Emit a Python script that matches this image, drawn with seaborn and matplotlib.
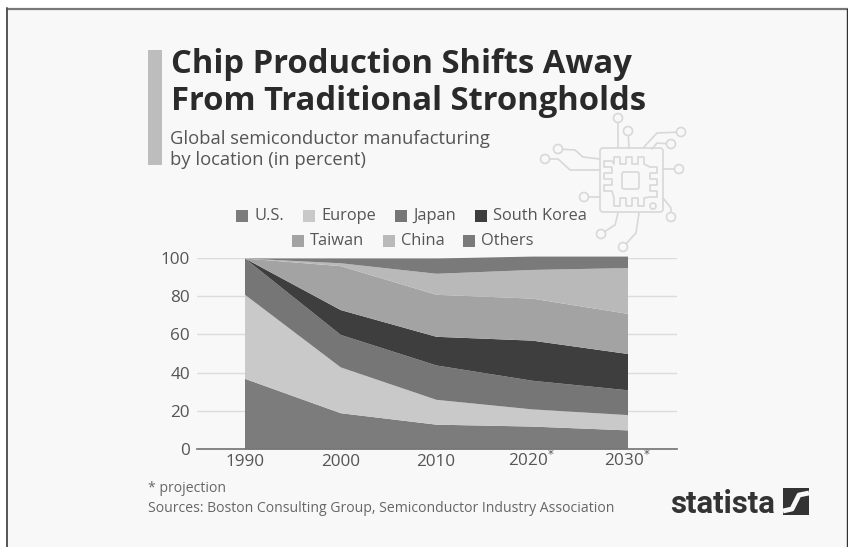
import matplotlib
matplotlib.use("Agg")
import matplotlib.pyplot as plt
from matplotlib.patches import Rectangle, Circle, FancyBboxPatch, Polygon
import seaborn as sns

years = [1990, 2000, 2010, 2020, 2030]
year_labels = ["1990", "2000", "2010", "2020$^{*}$", "2030$^{*}$"]
us = [37, 19, 13, 12, 10]
europe = [44, 24, 13, 9, 8]
japan = [19, 17, 18, 15, 13]
south_korea = [0, 13, 15, 21, 19]
taiwan = [0, 23, 22, 22, 21]
china = [0, 1.5, 11, 15, 24]
others = [0, 2.5, 8, 7, 6]
names = ["U.S.", "Europe", "Japan", "South Korea", "Taiwan", "China", "Others"]
colors = ["#7c7c7c", "#c9c9c9", "#767676", "#3e3e3e", "#a3a3a3", "#b9b9b9", "#7a7a7a"]

W, H = 848, 547
BG = "#f8f8f8"
ICON = "#d8d8d8"

sns.set_theme(style="white")
plt.rcParams["font.family"] = ["Open Sans", "DejaVu Sans"]

fig = plt.figure(figsize=(W / 100, H / 100), dpi=100, facecolor="white")

# full figure overlay in pixel coordinates for the furniture
bg = fig.add_axes([0, 0, 1, 1], zorder=0)
bg.set_xlim(0, W)
bg.set_ylim(H, 0)
bg.axis("off")
bg.add_patch(Rectangle((7, 9), W, H, fc=BG, ec="none"))
bg.plot([7, W], [9, 9], color="#777777", lw=1.6)
bg.plot([6.5, 6.5], [8, H], color="#555555", lw=1.4)
bg.plot([847.3, 847.3], [9, H], color="#333333", lw=1)

# title block
bg.add_patch(Rectangle((148, 50), 14, 115, fc="#bdbdbd", ec="none"))
bg.text(171, 73, "Chip Production Shifts Away", fontsize=23.6, fontweight="bold", color="#2a2a2a", va="baseline")
bg.text(171, 110, "From Traditional Strongholds", fontsize=23.6, fontweight="bold", color="#2a2a2a", va="baseline")
bg.text(170, 144, "Global semiconductor manufacturing", fontsize=13.2, color="#555555", va="baseline")
bg.text(170, 165, "by location (in percent)", fontsize=13.2, color="#555555", va="baseline")

# chip icon
line = dict(color=ICON, lw=1.2, solid_capstyle="round", solid_joinstyle="round")
bg.add_patch(FancyBboxPatch((602, 150), 59, 60, boxstyle="round,pad=2,rounding_size=3", fc="none", ec=ICON, lw=1.2))
bg.add_patch(FancyBboxPatch((623, 173), 15, 15, boxstyle="round,pad=1,rounding_size=2", fc="none", ec=ICON, lw=1.2))
bg.add_patch(Circle((653, 206), 3, fc="none", ec=ICON, lw=1.2))
# toothed ring round the die
ring = []
for t in [0, 1, 2]:
    ring += [(614 + t * 12, 164), (614 + t * 12, 157), (620 + t * 12, 157), (620 + t * 12, 164)]
for t in [0, 1, 2]:
    ring += [(650, 167 + t * 12), (657, 167 + t * 12), (657, 173 + t * 12), (650, 173 + t * 12)]
for t in [0, 1, 2]:
    ring += [(644 - t * 12, 198), (644 - t * 12, 206), (638 - t * 12, 206), (638 - t * 12, 198)]
for t in [0, 1, 2]:
    ring += [(612, 191 - t * 12), (604, 191 - t * 12), (604, 185 - t * 12), (612, 185 - t * 12)]
bg.add_patch(Polygon(ring, closed=True, fc="none", ec=ICON, lw=1.2, joinstyle="round"))
traces = [
    [(618, 148), (618, 118)],
    [(629, 148), (628, 131)],
    [(643, 148), (657, 133), (681, 132)],
    [(652, 149), (657, 143), (671, 144)],
    [(663, 169), (679, 169)],
    [(663, 198), (671, 208), (671, 217)],
    [(600, 159), (583, 157), (575, 150), (558, 149)],
    [(600, 170), (570, 170), (558, 159), (545, 159)],
    [(600, 197), (584, 197)],
    [(618, 213), (615, 225), (601, 234)],
    [(639, 213), (636, 233), (623, 247)],
]
for tr in traces:
    xs, ys = zip(*tr)
    bg.plot(xs, ys, **line)
    bg.add_patch(Circle(tr[-1], 4.5, fc=BG, ec=ICON, lw=1.2, zorder=3))

# legend, two centred rows
legend_pos = [(236, 216), (303, 216), (395, 216), (475, 216), (292, 241), (383, 241), (463, 241)]
for (lx, ly), n, c in zip(legend_pos, names, colors):
    bg.add_patch(Rectangle((lx, ly - 6), 12, 12, fc=c, ec="none"))
    bg.text(lx + 18, ly, n, fontsize=11.8, color="#555555", va="center")

# footer
bg.text(148, 488, "* projection", fontsize=10.1, color="#666666", va="center")
bg.text(148, 508, "Sources: Boston Consulting Group, Semiconductor Industry Association", fontsize=10.1, color="#666666", va="center")
bg.text(670, 504, "statista", fontsize=22.4, fontweight="bold", color="#333333", va="center", family="Roboto")
bg.add_patch(Rectangle((783, 488), 26, 27, fc="#333333", ec="none"))
bg.plot([783, 792, 799, 809], [511, 509, 495, 493], color=BG, lw=3.5, solid_capstyle="butt")

# plot area, 197..677 px wide, y 258 (100) .. 449 (0)
ax = fig.add_axes([197 / W, 1 - 449 / H, 480 / W, 191 / H], zorder=1)
ax.patch.set_alpha(0)
ax.stackplot(years, us, europe, japan, south_korea, taiwan, china, others, colors=colors, lw=0, clip_on=False, zorder=2)
per_px = 40 / (627.5 - 244.5)
ax.set_xlim(1990 - (244.5 - 197) * per_px, 2030 + (677 - 627.5) * per_px)
ax.set_ylim(0, 100)
ax.set_xticks(years)
ax.set_xticklabels(year_labels, va="baseline")
ax.set_yticks([0, 20, 40, 60, 80, 100])
ax.grid(axis="y", color="#dcdcdc", lw=1, zorder=0)
ax.set_axisbelow(True)
ax.tick_params(axis="y", length=0, labelsize=12.3, labelcolor="#555555", pad=5)
ax.tick_params(axis="x", length=0, labelsize=12.3, labelcolor="#555555", pad=12)
sns.despine(ax=ax, left=True)
ax.spines["bottom"].set_color("#777777")

fig.savefig("out.png", dpi=100, facecolor="white")
